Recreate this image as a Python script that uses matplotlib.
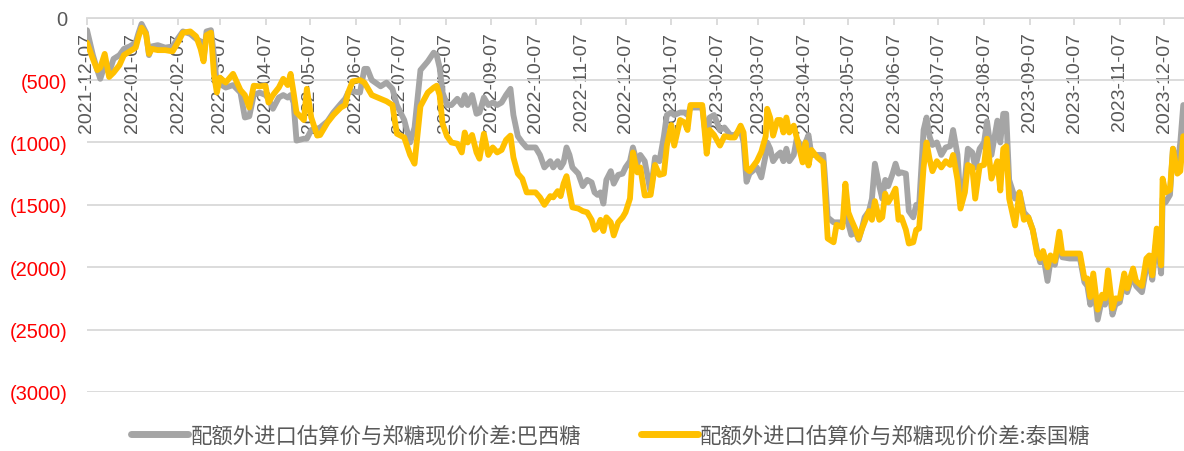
import matplotlib
matplotlib.use("Agg")
import matplotlib.pyplot as plt
import pandas as pd
from matplotlib.ticker import FuncFormatter, MultipleLocator

dates = [
    "2021-12-07", "2021-12-11", "2021-12-14", "2021-12-16", "2021-12-19", "2021-12-22", "2021-12-25",
    "2021-12-29", "2022-01-01", "2022-01-05", "2022-01-09", "2022-01-11", "2022-01-13", "2022-01-16",
    "2022-01-18", "2022-01-20", "2022-01-24", "2022-01-29", "2022-02-03", "2022-02-07", "2022-02-10",
    "2022-02-15", "2022-02-19", "2022-02-22", "2022-02-24", "2022-02-26", "2022-03-01", "2022-03-03",
    "2022-03-05",
    "2022-03-07", "2022-03-11", "2022-03-16", "2022-03-21", "2022-03-24", "2022-03-27", "2022-03-30",
    "2022-04-03", "2022-04-07", "2022-04-09", "2022-04-12", "2022-04-16", "2022-04-19", "2022-04-22",
    "2022-04-24", "2022-04-26", "2022-04-28", "2022-05-03", "2022-05-05", "2022-05-08", "2022-05-12",
    "2022-05-14", "2022-05-19", "2022-05-23", "2022-05-28", "2022-05-31", "2022-06-02", "2022-06-05",
    "2022-06-10", "2022-06-13", "2022-06-15", "2022-06-18", "2022-06-24", "2022-06-28", "2022-07-02",
    "2022-07-05", "2022-07-10", "2022-07-14", "2022-07-17", "2022-07-21", "2022-07-26", "2022-07-30",
    "2022-08-01", "2022-08-03",
    "2022-08-05", "2022-08-08", "2022-08-11", "2022-08-15", "2022-08-18", "2022-08-20", "2022-08-22",
    "2022-08-25", "2022-08-28", "2022-08-30", "2022-09-02", "2022-09-05", "2022-09-08", "2022-09-11",
    "2022-09-14", "2022-09-17", "2022-09-20", "2022-09-22", "2022-09-25", "2022-09-28", "2022-10-01",
    "2022-10-07", "2022-10-10", "2022-10-13", "2022-10-17", "2022-10-19", "2022-10-22", "2022-10-24",
    "2022-10-26", "2022-10-28", "2022-10-30", "2022-11-01", "2022-11-05", "2022-11-08", "2022-11-11",
    "2022-11-14", "2022-11-16", "2022-11-18", "2022-11-20", "2022-11-22", "2022-11-24", "2022-11-27",
    "2022-11-29", "2022-12-02", "2022-12-05", "2022-12-07", "2022-12-10", "2022-12-12", "2022-12-15",
    "2022-12-17", "2022-12-20", "2022-12-24", "2022-12-27", "2022-12-30", "2023-01-02", "2023-01-04",
    "2023-01-07", "2023-01-09", "2023-01-13", "2023-01-16", "2023-01-18", "2023-01-20", "2023-01-28",
    "2023-01-31", "2023-02-02", "2023-02-05", "2023-02-09", "2023-02-12", "2023-02-16", "2023-02-19",
    "2023-02-23", "2023-02-25", "2023-02-27", "2023-03-01", "2023-03-06", "2023-03-09", "2023-03-12",
    "2023-03-13", "2023-03-15", "2023-03-17", "2023-03-20", "2023-03-22", "2023-03-24", "2023-03-26",
    "2023-03-28", "2023-03-31", "2023-04-02", "2023-04-06", "2023-04-08", "2023-04-10", "2023-04-12",
    "2023-04-16", "2023-04-20", "2023-04-21", "2023-04-23", "2023-04-27",
    "2023-04-29", "2023-05-03", "2023-05-05", "2023-05-07", "2023-05-09", "2023-05-12", "2023-05-14",
    "2023-05-16", "2023-05-18", "2023-05-21", "2023-05-23", "2023-05-25", "2023-05-28", "2023-05-30",
    "2023-06-01", "2023-06-03", "2023-06-06", "2023-06-08", "2023-06-10", "2023-06-12", "2023-06-15",
    "2023-06-17", "2023-06-20", "2023-06-22", "2023-06-24", "2023-06-27", "2023-06-29", "2023-07-01",
    "2023-07-03", "2023-07-06", "2023-07-09", "2023-07-12", "2023-07-15", "2023-07-17", "2023-07-20",
    "2023-07-22", "2023-07-25", "2023-07-27", "2023-07-30", "2023-08-01", "2023-08-04", "2023-08-07",
    "2023-08-09", "2023-08-12", "2023-08-16", "2023-08-18", "2023-08-20", "2023-08-22", "2023-08-24",
    "2023-08-28", "2023-08-31", "2023-09-03", "2023-09-06", "2023-09-09", "2023-09-12", "2023-09-14",
    "2023-09-16", "2023-09-19", "2023-09-21", "2023-09-24", "2023-09-27", "2023-09-29", "2023-10-04",
    "2023-10-11", "2023-10-14", "2023-10-16", "2023-10-18", "2023-10-20", "2023-10-23", "2023-10-26",
    "2023-10-28", "2023-10-30", "2023-11-02", "2023-11-04", "2023-11-07", "2023-11-10", "2023-11-12",
    "2023-11-16", "2023-11-18", "2023-11-22", "2023-11-25", "2023-11-27", "2023-11-29", "2023-12-02",
    "2023-12-05", "2023-12-06", "2023-12-08", "2023-12-11", "2023-12-13", "2023-12-16", "2023-12-18",
    "2023-12-20",
]

brazil = [
    -100, -300, -420, -490, -380, -440, -330,
    -300, -250, -230, -200, -120, -50, -120,
    -300, -230, -220, -240, -230, -160, -110,
    -130, -170, -190, -330, -110, -100, -300,
    -530,
    -530, -560, -540, -600, -800, -790, -620,
    -600, -620, -650, -730, -640, -620, -640,
    -620, -680, -985, -970, -970, -900, -890,
    -880, -830, -760, -690, -650, -600, -590,
    -600, -410, -410, -500, -550, -520, -570,
    -700, -820, -1000, -880, -420, -350, -280,
    -300, -400,
    -600, -700, -700, -650, -700, -620, -700,
    -620, -770, -760, -640, -700, -680, -700,
    -680, -620, -570, -780, -950, -1000, -1040,
    -1040, -1100, -1200, -1150, -1200, -1150, -1200,
    -1160, -1040, -1100, -1200, -1250, -1350, -1300,
    -1320, -1400, -1420, -1400, -1490, -1300, -1230,
    -1330, -1260, -1250, -1200, -1150, -1040, -1170,
    -1100, -1150, -1400, -1120, -1150, -950, -780,
    -760, -780, -760, -760, -780, -720, -720,
    -1000, -800, -780, -900, -880, -940, -940,
    -900, -1000, -1315, -1250, -1200, -1280, -1100,
    -1000, -1050, -1150, -1100, -1080, -1150, -1050,
    -1150, -1100, -970, -1050, -1000, -940, -1100,
    -1100, -1100, -1250, -1600, -1640,
    -1640, -1640, -1600, -1650, -1740, -1720, -1780,
    -1700, -1600, -1550, -1450, -1170, -1350, -1450,
    -1300, -1350, -1250, -1170, -1250, -1240, -1250,
    -1550, -1600, -1500, -1500, -900, -800, -950,
    -1020, -1000, -1100, -1040, -1030, -900, -1100,
    -1470, -1300, -1050, -1080, -1200, -1050, -1000,
    -830, -1100, -825, -1000, -770, -770, -1300,
    -1450, -1400, -1560, -1600, -1700, -1870, -1960,
    -1900, -2110, -1950, -1980, -1780, -1920, -1930,
    -1930, -2120, -2150, -2300, -2100, -2420, -2250,
    -2300, -2100, -2380, -2300, -2280, -2100, -2200,
    -2050, -2150, -2200, -2000, -1950, -2100, -1750,
    -2050, -1450, -1480, -1420, -1050, -1200, -1000,
    -700,
]

thai = [
    -200, -330, -420, -400, -290, -475, -440,
    -380, -300, -270, -240, -150, -80, -130,
    -290, -250, -260, -260, -270, -190, -120,
    -110, -150, -250, -350, -140, -120, -450,
    -600,
    -480, -520, -450, -580, -620, -720, -545,
    -550, -545, -680, -620, -560, -490, -540,
    -450, -600, -760, -820, -570, -800, -945,
    -940, -840, -780, -720, -700, -600, -510,
    -500, -520, -560, -620, -650, -670, -700,
    -930, -960, -1100, -1170, -710, -600, -560,
    -545, -620,
    -850, -950, -1000, -1010, -1080, -920, -1000,
    -940, -1080, -1130, -930, -1100, -1040, -1080,
    -1060, -980, -945, -1120, -1250, -1290, -1400,
    -1400, -1440, -1500, -1430, -1440, -1390, -1430,
    -1330, -1270, -1400, -1520, -1530, -1550, -1560,
    -1620, -1700, -1680, -1620, -1710, -1600, -1640,
    -1745, -1640, -1600, -1560, -1450, -1080, -1240,
    -1200, -1425, -1420, -1180, -1260, -1250, -1025,
    -860, -1025, -820, -840, -900, -700, -700,
    -1090, -900, -940, -1025, -950, -960, -960,
    -865, -920, -1210, -1230, -1150, -1075, -950,
    -730, -800, -945, -820, -820, -920, -800,
    -920, -865, -960, -1160, -1000, -1185, -1060,
    -1120, -1160, -1360, -1770, -1800,
    -1660, -1680, -1330, -1560, -1620, -1700, -1770,
    -1700, -1640, -1550, -1620, -1470, -1620, -1600,
    -1410, -1480, -1420, -1370, -1620, -1600, -1700,
    -1810, -1800, -1700, -1690, -1200, -1000, -1130,
    -1230, -1150, -1200, -1150, -1180, -1100, -1300,
    -1530, -1400, -1180, -1200, -1450, -1190, -1180,
    -970, -1290, -1150, -1385, -1050, -1030, -1450,
    -1665, -1400, -1620, -1600, -1700, -1900, -1930,
    -1870, -2000, -1905, -1950, -1715, -1890, -1890,
    -1890, -2090, -2090, -2240, -2050, -2340, -2220,
    -2250, -2025, -2330, -2250, -2250, -2050, -2170,
    -2010, -2110, -2150, -1930, -1905, -2065, -1690,
    -1985, -1290, -1400, -1380, -1050, -1250, -1230,
    -950,
]

tick_dates = ["2021-12-07", "2022-01-07", "2022-02-07", "2022-03-07", "2022-04-07", "2022-05-07",
              "2022-06-07", "2022-07-07", "2022-08-07", "2022-09-07", "2022-10-07", "2022-11-07",
              "2022-12-07", "2023-01-07", "2023-02-07", "2023-03-07", "2023-04-07", "2023-05-07",
              "2023-06-07", "2023-07-07", "2023-08-07", "2023-09-07", "2023-10-07", "2023-11-07",
              "2023-12-07"]

series_names = ["配额外进口估算价与郑糖现价价差:巴西糖", "配额外进口估算价与郑糖现价价差:泰国糖"]

x = pd.to_datetime(dates)
xt = pd.to_datetime(tick_dates)

GRID = "#D9D9D9"
TXT = "#595959"

fig = plt.figure(figsize=(11.84, 4.52), dpi=100)
ax = fig.add_axes([87 / 1184, 1 - 393 / 452, 1 - 87 / 1184, (393 - 18.7) / 452])

ax.plot(x, brazil, color="#A5A5A5", lw=4.2, solid_joinstyle="round", solid_capstyle="round",
        label=series_names[0], zorder=3)
ax.plot(x, thai, color="#FFC000", lw=4.2, solid_joinstyle="round", solid_capstyle="round",
        label=series_names[1], zorder=4)

ax.set_ylim(-3000, 0)
ax.set_xlim(pd.Timestamp("2021-12-07"), pd.Timestamp("2023-12-20 12:00"))
ax.yaxis.set_major_locator(MultipleLocator(500))
ax.yaxis.set_major_formatter(FuncFormatter(lambda v, p: "0" if v == 0 else f"({abs(v):.0f})"))
ax.grid(axis="y", color=GRID, lw=1.3, zorder=0)
ax.set_axisbelow(True)

for s in ["left", "right", "bottom"]:
    ax.spines[s].set_visible(False)
ax.spines["top"].set_color(GRID)
ax.spines["top"].set_linewidth(1.3)

ax.tick_params(axis="y", length=0, pad=14, labelsize=14.5, labelcolor="#FF0000")
for lab in ax.get_yticklabels():
    lab.set_fontfamily("Liberation Sans")
fig.canvas.draw()
for t, lab in zip(ax.get_yticks(), ax.get_yticklabels()):
    if t == 0:
        lab.set_color(TXT)

ax.xaxis.tick_top()
ax.set_xticks(xt)
ax.tick_params(axis="x", direction="in", length=5, width=1.3, color=GRID, pad=-10,
               labeltop=True, labelbottom=False)
ax.set_xticklabels(tick_dates, rotation=90, va="top", ha="center", fontsize=14,
                   color=TXT, fontfamily="Liberation Sans")

leg = fig.legend(loc="center", bbox_to_anchor=(0.516, 0.034), ncol=2, frameon=False,
                 handlelength=2.65, handletextpad=0.12, columnspacing=2.8,
                 borderpad=0.2,
                 prop={"family": ["Noto Sans CJK SC", "DejaVu Sans"], "size": 15.4})
for t in leg.get_texts():
    t.set_color(TXT)
for h in leg.get_lines():
    h.set_linewidth(5)
    h.set_solid_capstyle("round")

fig.savefig("out.png", dpi=100)
